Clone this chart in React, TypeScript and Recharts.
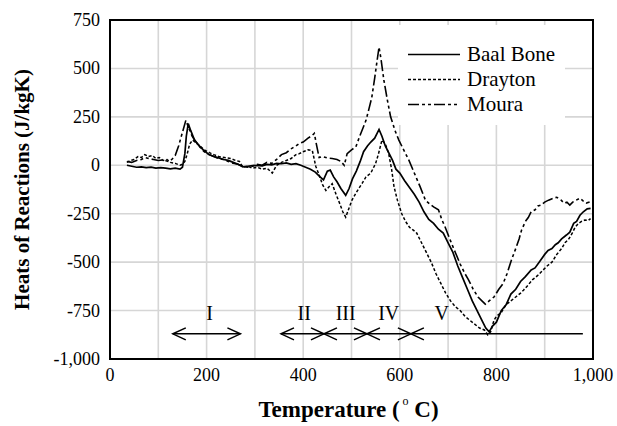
import React from 'react';
import {
  CartesianGrid,
  Legend,
  Line,
  LineChart,
  ReferenceArea,
  ReferenceDot,
  ReferenceLine,
  XAxis,
  YAxis
} from 'recharts';

// [temperature °C, heat of reaction J/kgK]
const baalBone: [number, number][] = [
  [35, 0], [45, -5], [55, -10], [65, -8], [75, -12], [85, -10], [95, -15], [105, -12], [115, -15],
  [125, -18], [135, -15], [145, -20], [150, -10], [155, 60], [158, 150], [162, 215], [167, 180],
  [175, 130], [185, 100], [195, 75], [205, 55], [215, 45], [225, 38], [235, 30], [245, 25], [255, 15],
  [265, 5], [275, -8], [285, -5], [295, -2], [305, 0], [315, -3], [325, 5], [335, 2], [345, 10],
  [355, 8], [365, 12], [375, 5], [385, 8], [395, 0], [405, -10], [415, -20], [425, -35], [435, -60],
  [442, -75], [450, -30], [456, -25], [463, -60], [470, -85], [478, -120], [488, -155], [495, -120],
  [502, -70], [510, -30], [518, 20], [525, 70], [533, 100], [540, 120], [548, 140], [557, 185],
  [563, 150], [570, 100], [578, 60], [585, 25], [592, -20], [600, -40], [610, -80], [620, -115],
  [630, -150], [640, -190], [650, -240], [660, -280], [670, -300], [680, -330], [690, -350],
  [700, -400], [710, -450], [720, -520], [730, -580], [740, -640], [750, -700], [760, -750],
  [770, -800], [778, -840], [785, -860], [792, -830], [800, -810], [810, -750], [820, -720],
  [830, -665], [840, -640], [850, -600], [860, -575], [872, -540], [880, -530], [890, -495],
  [900, -460], [907, -440], [915, -430], [922, -410], [928, -400], [935, -380], [945, -360],
  [952, -345], [960, -300], [966, -290], [973, -258], [980, -240], [988, -225], [995, -222]
];

const drayton: [number, number][] = [
  [35, 15], [42, 25], [50, 30], [58, 45], [65, 40], [72, 55], [80, 45], [88, 50], [95, 35],
  [102, 40], [110, 25], [118, 30], [125, 15], [135, 10], [145, 0], [150, 5], [155, 20], [160, 60],
  [165, 110], [171, 130], [178, 115], [186, 100], [195, 80], [206, 65], [215, 55], [225, 45],
  [237, 40], [250, 35], [260, 25], [268, 20], [275, -10], [285, -5], [295, -15], [305, -10],
  [315, -20], [325, -15], [336, -40], [345, 0], [355, 15], [365, 25], [375, 35], [385, 55],
  [392, 60], [400, 70], [410, 80], [419, 75], [426, -5], [433, -50], [440, -100], [447, -130],
  [454, -110], [460, -95], [468, -150], [476, -200], [482, -240], [488, -268], [495, -220],
  [501, -180], [510, -140], [522, -93], [530, -60], [540, -40], [546, -10], [550, 10], [556, 60],
  [563, 130], [570, 110], [577, 60], [583, -20], [588, -110], [595, -180], [604, -250],
  [612, -290], [620, -320], [628, -335], [635, -350], [645, -400], [655, -450], [665, -500],
  [675, -560], [685, -610], [695, -660], [705, -700], [715, -730], [725, -750], [735, -780],
  [745, -800], [755, -820], [765, -840], [775, -850], [782, -875], [788, -860], [795, -800],
  [800, -780], [810, -760], [820, -720], [830, -700], [840, -680], [850, -660], [856, -645],
  [865, -620], [875, -590], [885, -570], [897, -540], [905, -520], [915, -500], [925, -460],
  [935, -430], [942, -400], [950, -380], [957, -350], [963, -320], [970, -300], [976, -290],
  [983, -283], [990, -285], [995, -275]
];

const moura: [number, number][] = [
  [35, 20], [45, 15], [55, 25], [65, 30], [72, 40], [80, 35], [90, 30], [100, 25], [110, 28],
  [120, 20], [128, 30], [135, 50], [142, 100], [150, 170], [157, 232], [162, 200], [170, 150],
  [178, 120], [186, 95], [195, 70], [205, 55], [215, 45], [225, 35], [235, 30], [245, 20],
  [255, 10], [265, 5], [275, -5], [285, -10], [295, -5], [305, 5], [315, 0], [325, 15], [335, 10],
  [345, 30], [355, 55], [365, 65], [375, 85], [385, 100], [392, 113], [400, 120], [410, 140],
  [419, 155], [423, 165], [428, 100], [433, 40], [440, 45], [450, 38], [460, 35], [470, 30],
  [478, 20], [485, 0], [491, 60], [500, 80], [509, 95], [517, 150], [525, 200], [530, 232],
  [536, 290], [542, 350], [548, 450], [553, 540], [557, 610], [561, 550], [567, 440], [574, 340],
  [581, 250], [590, 180], [598, 130], [608, 80], [619, 25], [630, -40], [642, -110], [653, -180],
  [662, -200], [670, -215], [680, -230], [687, -280], [694, -320], [705, -390], [715, -450],
  [725, -510], [735, -560], [742, -590], [752, -640], [762, -680], [770, -700], [777, -717],
  [785, -700], [795, -680], [805, -640], [814, -610], [822, -560], [831, -490], [840, -430],
  [847, -380], [852, -335], [860, -290], [866, -270], [872, -240], [880, -230], [886, -210],
  [893, -205], [900, -190], [908, -180], [918, -170], [925, -165], [934, -180], [940, -195],
  [946, -190], [952, -205], [958, -190], [965, -180], [973, -170], [980, -185], [986, -195],
  [993, -190]
];

const xTicks = [0, 200, 400, 600, 800, 1000];
const yTicks = [-1000, -750, -500, -250, 0, 250, 500, 750];
const xGrid = [100, 200, 300, 400, 500, 600, 700, 800, 900];

// reaction stages along the bottom of the plot
const stageLevel = -870;
const stageLabelLevel = -765;
const stageLabels = ['I', 'II', 'III', 'IV', 'V'];
const stageLabelTemps = [206, 402, 488, 577, 687];
const stageOneSpan = [130, 270];
const laterStagesSpan = [354, 979];
const stageBoundaries = [443, 532, 623];

const seriesStyles = [
  { name: 'Baal Bone', data: baalBone, dash: undefined as string | undefined, width: 1.7 },
  { name: 'Drayton', data: drayton, dash: '3 2', width: 1.5 },
  { name: 'Moura', data: moura, dash: '11 3 3 3 3 3', width: 1.6 }
];

const FONT = 'Liberation Serif';

const toRows = (pts: [number, number][]) => pts.map(([t, v]) => ({ t, v }));

const fmt = (v: number) => v.toLocaleString('en-US');

const XTick = (props: any) => {
  const { x, y, payload } = props;
  return (
    <text x={x} y={y + 16} textAnchor="middle" fontFamily={FONT} fontSize={18} fill="#000">
      {fmt(payload.value)}
    </text>
  );
};

const YTick = (props: any) => {
  const { x, y, payload } = props;
  return (
    <text x={x} y={y} textAnchor="end" dominantBaseline="central" fontFamily={FONT} fontSize={18} fill="#000">
      {fmt(payload.value)}
    </text>
  );
};

const arrowHead = (dir: 'left' | 'right' | 'cross') => (props: any) => {
  const { cx, cy } = props;
  const l = 13;
  const h = 6;
  const left = `M${cx + l},${cy - h}L${cx},${cy}L${cx + l},${cy + h}`;
  const right = `M${cx - l},${cy - h}L${cx},${cy}L${cx - l},${cy + h}`;
  const d = dir === 'left' ? left : dir === 'right' ? right : `${left}${right}`;
  return <path d={d} fill="none" stroke="#000" strokeWidth={1.5} />;
};

const stageText = (text: string) => (props: any) => (
  <text x={props.cx} y={props.cy} textAnchor="middle" dominantBaseline="central" fontFamily={FONT} fontSize={20} fill="#000">
    {text}
  </text>
);

const LegendBox = () => (
  <div style={{ background: '#fff', width: 167, height: 100, paddingTop: 17, boxSizing: 'border-box', fontFamily: FONT }}>
    {seriesStyles.map((s) => (
      <div key={s.name} style={{ display: 'flex', alignItems: 'center', height: 25 }}>
        <svg width={62} height={25}>
          <line x1={10} x2={62} y1={12.5} y2={12.5} stroke="#000" strokeWidth={s.width} strokeDasharray={s.dash} />
        </svg>
        <span style={{ marginLeft: 7, fontSize: 21, fontFamily: FONT, color: '#000', lineHeight: '25px' }}>{s.name}</span>
      </div>
    ))}
  </div>
);

const YTitle = (props: any) => {
  const { viewBox } = props;
  const cx = viewBox.x + 22;
  const cy = viewBox.y + viewBox.height / 2;
  return (
    <text x={cx} y={cy} transform={`rotate(-90 ${cx} ${cy})`} textAnchor="middle" dominantBaseline="central" fontFamily={FONT} fontSize={21} fontWeight="bold" fill="#000">
      Heats of Reactions (J/kgK)
    </text>
  );
};

const XTitle = (props: any) => {
  const { viewBox } = props;
  const cx = viewBox.x + viewBox.width / 2 - 3;
  const y = viewBox.y + 58;
  return (
    <text x={cx} y={y} textAnchor="middle" fontFamily={FONT} fontSize={23} fontWeight="bold" fill="#000">
      Temperature (<tspan fontSize={12} fontWeight="normal" dy={-12}> o</tspan>
      <tspan dy={12}> C)</tspan>
    </text>
  );
};

export default function App() {
  return (
    <div style={{ position: 'absolute', left: 0, top: 0, width: 617, height: 426, background: '#fff', fontFamily: FONT }}>
      <LineChart width={617} height={426} margin={{ top: 20, right: 24, bottom: 0, left: 0 }} style={{ fontFamily: FONT }}>
        <CartesianGrid stroke="#d6d6d6" strokeWidth={1.6} verticalValues={xGrid} horizontalValues={yTicks} />
        <XAxis
          dataKey="t"
          type="number"
          domain={[0, 1000]}
          ticks={xTicks}
          height={67}
          tickSize={0}
          tickMargin={6}
          axisLine={false}
          tick={<XTick />}
          label={<XTitle />}
        />
        <YAxis
          type="number"
          domain={[-1000, 750]}
          ticks={yTicks}
          width={110}
          tickSize={0}
          tickMargin={10}
          axisLine={false}
          tick={<YTick />}
          label={<YTitle />}
        />
        <ReferenceArea x1={0} x2={1000} y1={-1000} y2={750} fill="none" stroke="#000" strokeWidth={2} />
        {seriesStyles.map((s) => (
          <Line
            key={s.name}
            name={s.name}
            data={toRows(s.data)}
            dataKey="v"
            type="linear"
            stroke="#000"
            strokeWidth={s.width}
            strokeDasharray={s.dash}
            dot={false}
            activeDot={false}
            isAnimationActive={false}
          />
        ))}
        <ReferenceLine
          segment={[{ x: stageOneSpan[0], y: stageLevel }, { x: stageOneSpan[1], y: stageLevel }]}
          stroke="#000"
          strokeWidth={1.5}
        />
        <ReferenceLine
          segment={[{ x: laterStagesSpan[0], y: stageLevel }, { x: laterStagesSpan[1], y: stageLevel }]}
          stroke="#000"
          strokeWidth={1.5}
        />
        <ReferenceDot x={stageOneSpan[0]} y={stageLevel} shape={arrowHead('left')} />
        <ReferenceDot x={stageOneSpan[1]} y={stageLevel} shape={arrowHead('right')} />
        <ReferenceDot x={laterStagesSpan[0]} y={stageLevel} shape={arrowHead('left')} />
        {stageBoundaries.map((t) => (
          <ReferenceDot key={t} x={t} y={stageLevel} shape={arrowHead('cross')} />
        ))}
        {stageLabels.map((lab, i) => (
          <ReferenceDot key={lab} x={stageLabelTemps[i]} y={stageLabelLevel} shape={stageText(lab)} />
        ))}
        <Legend
          layout="vertical"
          align="center"
          verticalAlign="middle"
          content={<LegendBox />}
          wrapperStyle={{ left: 398, top: 25, width: 167, height: 100 }}
        />
      </LineChart>
    </div>
  );
}
